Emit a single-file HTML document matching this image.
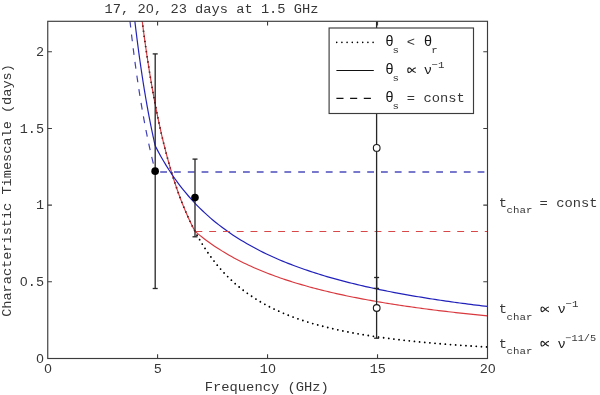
<!DOCTYPE html>
<html><head><meta charset="utf-8"><style>
html,body{margin:0;padding:0;background:#fff;width:600px;height:395px;overflow:hidden}
svg{display:block;will-change:transform}
</style></head><body>
<svg width="600" height="395" viewBox="0 0 600 395"><rect width="600" height="395" fill="#fff"/><defs><clipPath id="c"><rect x="47.75" y="21.3" width="439.75" height="337.2"/></clipPath></defs><g clip-path="url(#c)" fill="none"><path d="M141.98,19.30 L142.84,26.03 L143.71,32.57 L144.57,38.92 L145.44,45.10 L146.30,51.10 L147.16,56.94 L148.03,62.61 L148.89,68.14 L149.75,73.51 L150.62,78.74 L151.48,83.83 L152.35,88.79 L153.21,93.62 L154.07,98.33 L154.94,102.91 L155.80,107.38 L156.66,111.73 L157.53,115.98 L158.39,120.12 L159.26,124.16 L160.12,128.10 L160.98,131.94 L161.85,135.69 L162.71,139.35 L163.58,142.93 L164.44,146.42 L165.30,149.83 L166.17,153.16 L167.03,156.41 L167.89,159.59 L168.76,162.70 L169.62,165.73 L170.49,168.70 L171.35,171.60 L172.21,174.44 L173.08,177.22 L173.94,179.93 L174.80,182.59 L175.67,185.19 L176.53,187.74 L177.40,190.23 L178.26,192.66 L179.12,195.05 L179.99,197.39 L180.85,199.68 L181.71,201.92 L182.58,204.11 L183.44,206.27 L184.31,208.37 L185.17,210.44 L186.03,212.46 L186.90,214.45 L187.76,216.39 L188.63,218.30 L189.49,220.17 L190.35,222.01 L191.22,223.81 L192.08,225.57 L192.94,227.30 L193.81,229.00 L194.67,230.67 L195.54,232.31 L196.40,233.91 L197.26,235.49 L198.13,237.04 L198.99,238.56 L199.85,240.05 L200.72,241.51 L201.58,242.95 L202.45,244.37 L203.31,245.75 L204.17,247.12 L205.04,248.46 L205.90,249.78 L206.77,251.07 L207.63,252.34 L208.49,253.59 L209.36,254.82 L210.22,256.03 L211.08,257.21 L211.95,258.38 L212.81,259.53 L213.68,260.66 L214.54,261.77 L215.40,262.86 L216.27,263.94 L217.13,264.99 L217.99,266.03 L218.86,267.06 L219.72,268.06 L220.59,269.05 L221.45,270.03 L222.31,270.99 L223.18,271.93 L224.04,272.86 L224.90,273.78 L225.77,274.68 L226.63,275.56 L227.50,276.44 L228.36,277.30 L229.22,278.15 L230.09,278.98 L230.95,279.80 L231.82,280.61 L232.68,281.41 L233.54,282.19 L234.41,282.97 L235.27,283.73 L236.13,284.48 L237.00,285.22 L237.86,285.95 L238.73,286.67 L239.59,287.38 L240.45,288.08 L241.32,288.77 L242.18,289.45 L243.04,290.12 L243.91,290.78 L244.77,291.43 L245.64,292.07 L246.50,292.70 L247.36,293.33 L248.23,293.94 L249.09,294.55 L249.96,295.15 L250.82,295.74 L251.68,296.32 L252.55,296.90 L253.41,297.47 L254.27,298.03 L255.14,298.58 L256.00,299.12 L256.87,299.66 L257.73,300.19 L258.59,300.72 L259.46,301.23 L260.32,301.74 L261.18,302.25 L262.05,302.75 L262.91,303.24 L263.78,303.72 L264.64,304.20 L265.50,304.67 L266.37,305.14 L267.23,305.60 L268.09,306.05 L268.96,306.50 L269.82,306.95 L270.69,307.38 L271.55,307.82 L272.41,308.24 L273.28,308.67 L274.14,309.08 L275.01,309.50 L275.87,309.90 L276.73,310.31 L277.60,310.70 L278.46,311.10 L279.32,311.48 L280.19,311.87 L281.05,312.24 L281.92,312.62 L282.78,312.99 L283.64,313.35 L284.51,313.72 L285.37,314.07 L286.23,314.43 L287.10,314.78 L287.96,315.12 L288.83,315.46 L289.69,315.80 L290.55,316.13 L291.42,316.46 L292.28,316.79 L293.15,317.11 L294.01,317.43 L294.87,317.74 L295.74,318.05 L296.60,318.36 L297.46,318.67 L298.33,318.97 L299.19,319.27 L300.06,319.56 L300.92,319.85 L301.78,320.14 L302.65,320.43 L303.51,320.71 L304.37,320.99 L305.24,321.26 L306.10,321.54 L306.97,321.81 L307.83,322.07 L308.69,322.34 L309.56,322.60 L310.42,322.86 L311.28,323.12 L312.15,323.37 L313.01,323.62 L313.88,323.87 L314.74,324.12 L315.60,324.36 L316.47,324.60 L317.33,324.84 L318.20,325.07 L319.06,325.31 L319.92,325.54 L320.79,325.77 L321.65,325.99 L322.51,326.22 L323.38,326.44 L324.24,326.66 L325.11,326.88 L325.97,327.09 L326.83,327.31 L327.70,327.52 L328.56,327.73 L329.42,327.93 L330.29,328.14 L331.15,328.34 L332.02,328.54 L332.88,328.74 L333.74,328.94 L334.61,329.14 L335.47,329.33 L336.34,329.52 L337.20,329.71 L338.06,329.90 L338.93,330.08 L339.79,330.27 L340.65,330.45 L341.52,330.63 L342.38,330.81 L343.25,330.99 L344.11,331.17 L344.97,331.34 L345.84,331.51 L346.70,331.68 L347.56,331.85 L348.43,332.02 L349.29,332.19 L350.16,332.35 L351.02,332.52 L351.88,332.68 L352.75,332.84 L353.61,333.00 L354.47,333.16 L355.34,333.31 L356.20,333.47 L357.07,333.62 L357.93,333.77 L358.79,333.92 L359.66,334.07 L360.52,334.22 L361.39,334.37 L362.25,334.51 L363.11,334.66 L363.98,334.80 L364.84,334.94 L365.70,335.08 L366.57,335.22 L367.43,335.36 L368.30,335.50 L369.16,335.63 L370.02,335.77 L370.89,335.90 L371.75,336.03 L372.61,336.16 L373.48,336.29 L374.34,336.42 L375.21,336.55 L376.07,336.68 L376.93,336.80 L377.80,336.93 L378.66,337.05 L379.53,337.17 L380.39,337.30 L381.25,337.42 L382.12,337.54 L382.98,337.65 L383.84,337.77 L384.71,337.89 L385.57,338.00 L386.44,338.12 L387.30,338.23 L388.16,338.35 L389.03,338.46 L389.89,338.57 L390.75,338.68 L391.62,338.79 L392.48,338.90 L393.35,339.00 L394.21,339.11 L395.07,339.22 L395.94,339.32 L396.80,339.43 L397.66,339.53 L398.53,339.63 L399.39,339.73 L400.26,339.84 L401.12,339.94 L401.98,340.03 L402.85,340.13 L403.71,340.23 L404.58,340.33 L405.44,340.42 L406.30,340.52 L407.17,340.62 L408.03,340.71 L408.89,340.80 L409.76,340.90 L410.62,340.99 L411.49,341.08 L412.35,341.17 L413.21,341.26 L414.08,341.35 L414.94,341.44 L415.80,341.53 L416.67,341.61 L417.53,341.70 L418.40,341.79 L419.26,341.87 L420.12,341.96 L420.99,342.04 L421.85,342.12 L422.72,342.21 L423.58,342.29 L424.44,342.37 L425.31,342.45 L426.17,342.53 L427.03,342.61 L427.90,342.69 L428.76,342.77 L429.63,342.85 L430.49,342.92 L431.35,343.00 L432.22,343.08 L433.08,343.15 L433.94,343.23 L434.81,343.30 L435.67,343.38 L436.54,343.45 L437.40,343.53 L438.26,343.60 L439.13,343.67 L439.99,343.74 L440.85,343.81 L441.72,343.88 L442.58,343.95 L443.45,344.02 L444.31,344.09 L445.17,344.16 L446.04,344.23 L446.90,344.30 L447.77,344.37 L448.63,344.43 L449.49,344.50 L450.36,344.57 L451.22,344.63 L452.08,344.70 L452.95,344.76 L453.81,344.82 L454.68,344.89 L455.54,344.95 L456.40,345.01 L457.27,345.08 L458.13,345.14 L458.99,345.20 L459.86,345.26 L460.72,345.32 L461.59,345.38 L462.45,345.44 L463.31,345.50 L464.18,345.56 L465.04,345.62 L465.91,345.68 L466.77,345.74 L467.63,345.80 L468.50,345.85 L469.36,345.91 L470.22,345.97 L471.09,346.02 L471.95,346.08 L472.82,346.13 L473.68,346.19 L474.54,346.24 L475.41,346.30 L476.27,346.35 L477.13,346.41 L478.00,346.46 L478.86,346.51 L479.73,346.56 L480.59,346.62 L481.45,346.67 L482.32,346.72 L483.18,346.77 L484.04,346.82 L484.91,346.87 L485.77,346.92 L486.64,346.97 L487.50,347.02" stroke="#000" stroke-width="1.8" stroke-linecap="round" stroke-dasharray="0 5.17" stroke-dashoffset="3.52"/><path d="M141.98,19.30 L142.42,22.77 L142.86,26.18 L143.31,29.55 L143.75,32.87 L144.19,36.13 L144.63,39.35 L145.07,42.53 L145.51,45.66 L145.96,48.74 L146.40,51.78 L146.84,54.78 L147.28,57.73 L147.72,60.64 L148.17,63.51 L148.61,66.34 L149.05,69.14 L149.49,71.89 L149.93,74.61 L150.37,77.28 L150.82,79.92 L151.26,82.53 L151.70,85.10 L152.14,87.64 L152.58,90.14 L153.03,92.61 L153.47,95.04 L153.91,97.44 L154.35,99.82 L154.79,102.16 L155.24,104.46 L155.68,106.74 L156.12,108.99 L156.56,111.21 L157.00,113.41 L157.44,115.57 L157.89,117.71 L158.33,119.81 L158.77,121.90 L159.21,123.95 L159.65,125.98 L160.10,127.99 L160.54,129.97 L160.98,131.92 L161.42,133.85 L161.86,135.76 L162.30,137.64 L162.75,139.50 L163.19,141.34 L163.63,143.15 L164.07,144.95 L164.51,146.72 L164.96,148.47 L165.40,150.20 L165.84,151.91 L166.28,153.59 L166.72,155.26 L167.16,156.91 L167.61,158.54 L168.05,160.15 L168.49,161.74 L168.93,163.31 L169.37,164.87 L169.82,166.41 L170.26,167.92 L170.70,169.43 L171.14,170.91 L171.58,172.38 L172.02,173.83 L172.47,175.26 L172.91,176.68 L173.35,178.08 L173.79,179.47 L174.23,180.84 L174.68,182.20 L175.12,183.54 L175.56,184.87 L176.00,186.18 L176.44,187.48 L176.88,188.76 L177.33,190.03 L177.77,191.28 L178.21,192.53 L178.65,193.75 L179.09,194.97 L179.54,196.17 L179.98,197.36 L180.42,198.54 L180.86,199.70 L181.30,200.85 L181.75,201.99 L182.19,203.12 L182.63,204.24 L183.07,205.34 L183.51,206.44 L183.95,207.52 L184.40,208.59 L184.84,209.65 L185.28,210.70 L185.72,211.74 L186.16,212.76 L186.61,213.78 L187.05,214.79 L187.49,215.78 L187.93,216.77 L188.37,217.75 L188.81,218.72 L189.26,219.67 L189.70,220.62 L190.14,221.56 L190.58,222.49 L191.02,223.41 L191.47,224.32 L191.91,225.22 L192.35,226.12 L192.79,227.00 L193.23,227.88 L193.67,228.74 L194.12,229.60 L194.56,230.45 L195.00,231.30 L197.44,233.37 L199.88,235.37 L202.31,237.31 L204.75,239.19 L207.19,241.01 L209.62,242.78 L212.06,244.49 L214.50,246.16 L216.94,247.78 L219.38,249.35 L221.81,250.87 L224.25,252.36 L226.69,253.80 L229.12,255.21 L231.56,256.58 L234.00,257.91 L236.44,259.21 L238.88,260.47 L241.31,261.71 L243.75,262.91 L246.19,264.08 L248.62,265.23 L251.06,266.35 L253.50,267.44 L255.94,268.50 L258.38,269.54 L260.81,270.56 L263.25,271.55 L265.69,272.53 L268.12,273.48 L270.56,274.41 L273.00,275.32 L275.44,276.21 L277.88,277.08 L280.31,277.93 L282.75,278.76 L285.19,279.58 L287.62,280.38 L290.06,281.17 L292.50,281.94 L294.94,282.69 L297.38,283.43 L299.81,284.16 L302.25,284.87 L304.69,285.57 L307.12,286.25 L309.56,286.93 L312.00,287.59 L314.44,288.23 L316.88,288.87 L319.31,289.49 L321.75,290.11 L324.19,290.71 L326.62,291.30 L329.06,291.88 L331.50,292.46 L333.94,293.02 L336.38,293.57 L338.81,294.11 L341.25,294.65 L343.69,295.17 L346.12,295.69 L348.56,296.20 L351.00,296.70 L353.44,297.19 L355.88,297.68 L358.31,298.16 L360.75,298.63 L363.19,299.09 L365.62,299.54 L368.06,299.99 L370.50,300.43 L372.94,300.87 L375.38,301.30 L377.81,301.72 L380.25,302.14 L382.69,302.55 L385.12,302.95 L387.56,303.35 L390.00,303.74 L392.44,304.13 L394.88,304.51 L397.31,304.89 L399.75,305.26 L402.19,305.62 L404.63,305.98 L407.06,306.34 L409.50,306.69 L411.94,307.04 L414.38,307.38 L416.81,307.72 L419.25,308.05 L421.69,308.38 L424.13,308.70 L426.56,309.02 L429.00,309.34 L431.44,309.65 L433.88,309.96 L436.31,310.26 L438.75,310.57 L441.19,310.86 L443.62,311.16 L446.06,311.44 L448.50,311.73 L450.94,312.01 L453.38,312.29 L455.81,312.57 L458.25,312.84 L460.69,313.11 L463.13,313.38 L465.56,313.64 L468.00,313.90 L470.44,314.16 L472.88,314.41 L475.31,314.66 L477.75,314.91 L480.19,315.16 L482.62,315.40 L485.06,315.64 L487.50,315.88" stroke="#d8383e" stroke-width="1.15"/><path d="M134.63,19.30 L134.80,20.76 L134.98,22.22 L135.15,23.67 L135.32,25.10 L135.49,26.53 L135.66,27.95 L135.83,29.36 L136.00,30.77 L136.18,32.16 L136.35,33.54 L136.52,34.92 L136.69,36.29 L136.86,37.65 L137.03,39.00 L137.20,40.34 L137.38,41.68 L137.55,43.00 L137.72,44.32 L137.89,45.63 L138.06,46.94 L138.23,48.23 L138.40,49.52 L138.58,50.80 L138.75,52.07 L138.92,53.33 L139.09,54.59 L139.26,55.84 L139.43,57.08 L139.60,58.31 L139.77,59.54 L139.95,60.76 L140.12,61.97 L140.29,63.18 L140.46,64.37 L140.63,65.56 L140.80,66.75 L140.97,67.92 L141.15,69.09 L141.32,70.26 L141.49,71.41 L141.66,72.56 L141.83,73.71 L142.00,74.84 L142.17,75.97 L142.35,77.10 L142.52,78.21 L142.69,79.32 L142.86,80.43 L143.03,81.52 L143.20,82.62 L143.37,83.70 L143.55,84.78 L143.72,85.85 L143.89,86.92 L144.06,87.98 L144.23,89.03 L144.40,90.08 L144.57,91.12 L144.75,92.16 L144.92,93.19 L145.09,94.22 L145.26,95.24 L145.43,96.25 L145.60,97.26 L145.77,98.26 L145.94,99.26 L146.12,100.25 L146.29,101.23 L146.46,102.21 L146.63,103.19 L146.80,104.16 L146.97,105.12 L147.14,106.08 L147.32,107.03 L147.49,107.98 L147.66,108.93 L147.83,109.86 L148.00,110.80 L148.17,111.72 L148.34,112.65 L148.52,113.56 L148.69,114.48 L148.86,115.38 L149.03,116.29 L149.20,117.19 L149.37,118.08 L149.54,118.97 L149.72,119.85 L149.89,120.73 L150.06,121.60 L150.23,122.47 L150.40,123.34 L150.57,124.20 L150.74,125.05 L150.92,125.91 L151.09,126.75 L151.26,127.59 L151.43,128.43 L151.60,129.27 L151.77,130.09 L151.94,130.92 L152.11,131.74 L152.29,132.55 L152.46,133.37 L152.63,134.17 L152.80,134.98 L152.97,135.78 L153.14,136.57 L153.31,137.36 L153.49,138.15 L153.66,138.93 L153.83,139.71 L154.00,140.48 L154.17,141.26 L154.34,142.02 L154.51,142.78 L154.69,143.54 L154.86,144.30 L155.03,145.05 L155.20,145.80 L157.97,151.13 L160.74,156.21 L163.51,161.04 L166.28,165.65 L169.05,170.05 L171.81,174.25 L174.58,178.27 L177.35,182.11 L180.12,185.80 L182.89,189.33 L185.66,192.73 L188.43,195.99 L191.20,199.12 L193.97,202.14 L196.74,205.04 L199.51,207.84 L202.28,210.53 L205.05,213.14 L207.81,215.65 L210.58,218.08 L213.35,220.42 L216.12,222.69 L218.89,224.89 L221.66,227.01 L224.43,229.07 L227.20,231.07 L229.97,233.00 L232.74,234.88 L235.51,236.70 L238.27,238.47 L241.04,240.19 L243.81,241.86 L246.58,243.48 L249.35,245.06 L252.12,246.60 L254.89,248.09 L257.66,249.55 L260.43,250.96 L263.20,252.34 L265.97,253.69 L268.74,255.00 L271.50,256.28 L274.27,257.53 L277.04,258.75 L279.81,259.94 L282.58,261.10 L285.35,262.24 L288.12,263.34 L290.89,264.43 L293.66,265.49 L296.43,266.52 L299.20,267.53 L301.97,268.52 L304.74,269.49 L307.50,270.44 L310.27,271.37 L313.04,272.28 L315.81,273.17 L318.58,274.04 L321.35,274.89 L324.12,275.73 L326.89,276.55 L329.66,277.36 L332.43,278.15 L335.20,278.92 L337.97,279.68 L340.73,280.42 L343.50,281.15 L346.27,281.87 L349.04,282.58 L351.81,283.27 L354.58,283.95 L357.35,284.61 L360.12,285.27 L362.89,285.91 L365.66,286.54 L368.43,287.16 L371.20,287.77 L373.96,288.37 L376.73,288.96 L379.50,289.54 L382.27,290.11 L385.04,290.68 L387.81,291.23 L390.58,291.77 L393.35,292.30 L396.12,292.83 L398.89,293.35 L401.66,293.86 L404.43,294.36 L407.19,294.85 L409.96,295.34 L412.73,295.82 L415.50,296.29 L418.27,296.76 L421.04,297.21 L423.81,297.66 L426.58,298.11 L429.35,298.55 L432.12,298.98 L434.89,299.40 L437.65,299.82 L440.42,300.24 L443.19,300.65 L445.96,301.05 L448.73,301.44 L451.50,301.84 L454.27,302.22 L457.04,302.60 L459.81,302.98 L462.58,303.35 L465.35,303.71 L468.12,304.07 L470.89,304.43 L473.65,304.78 L476.42,305.13 L479.19,305.47 L481.96,305.81 L484.73,306.14 L487.50,306.47" stroke="#2222bb" stroke-width="1.2"/><path d="M141.98,19.30 L142.84,26.03 L143.71,32.57 L144.57,38.92 L145.44,45.10 L146.30,51.10 L147.16,56.94 L148.03,62.61 L148.89,68.14 L149.75,73.51 L150.62,78.74 L151.48,83.83 L152.35,88.79 L153.21,93.62 L154.07,98.33 L154.94,102.91 L155.80,107.38 L156.66,111.73 L157.53,115.98 L158.39,120.12 L159.26,124.16 L160.12,128.10 L160.98,131.94 L161.85,135.69 L162.71,139.35 L163.58,142.93 L164.44,146.42 L165.30,149.83 L166.17,153.16 L167.03,156.41 L167.89,159.59 L168.76,162.70 L169.62,165.73 L170.49,168.70 L171.35,171.60 L172.21,174.44 L173.08,177.22 L173.94,179.93 L174.80,182.59 L175.67,185.19 L176.53,187.74 L177.40,190.23 L178.26,192.66 L179.12,195.05 L179.99,197.39 L180.85,199.68 L181.71,201.92 L182.58,204.11 L183.44,206.27 L184.31,208.37 L185.17,210.44 L186.03,212.46 L186.90,214.45 L187.76,216.39 L188.63,218.30 L189.49,220.17 L190.35,222.01 L191.22,223.81 L192.08,225.57 L192.94,227.30 L193.81,229.00 L194.67,230.67 L195.54,232.31 L196.40,233.91 L197.26,235.49 L198.13,237.04 L198.99,238.56 L199.85,240.05 L200.72,241.51 L201.58,242.95 L202.45,244.37 L203.31,245.75 L204.17,247.12 L205.04,248.46 L205.90,249.78 L206.77,251.07 L207.63,252.34 L208.49,253.59 L209.36,254.82 L210.22,256.03 L211.08,257.21 L211.95,258.38 L212.81,259.53 L213.68,260.66 L214.54,261.77 L215.40,262.86 L216.27,263.94 L217.13,264.99 L217.99,266.03 L218.86,267.06 L219.72,268.06 L220.59,269.05 L221.45,270.03 L222.31,270.99 L223.18,271.93 L224.04,272.86 L224.90,273.78 L225.77,274.68 L226.63,275.56 L227.50,276.44 L228.36,277.30 L229.22,278.15 L230.09,278.98 L230.95,279.80 L231.82,280.61 L232.68,281.41 L233.54,282.19 L234.41,282.97 L235.27,283.73 L236.13,284.48 L237.00,285.22 L237.86,285.95 L238.73,286.67 L239.59,287.38 L240.45,288.08 L241.32,288.77 L242.18,289.45 L243.04,290.12 L243.91,290.78 L244.77,291.43 L245.64,292.07 L246.50,292.70 L247.36,293.33 L248.23,293.94 L249.09,294.55 L249.96,295.15 L250.82,295.74 L251.68,296.32 L252.55,296.90 L253.41,297.47 L254.27,298.03 L255.14,298.58 L256.00,299.12 L256.87,299.66 L257.73,300.19 L258.59,300.72 L259.46,301.23 L260.32,301.74 L261.18,302.25 L262.05,302.75 L262.91,303.24 L263.78,303.72 L264.64,304.20 L265.50,304.67 L266.37,305.14 L267.23,305.60 L268.09,306.05 L268.96,306.50 L269.82,306.95 L270.69,307.38 L271.55,307.82 L272.41,308.24 L273.28,308.67 L274.14,309.08 L275.01,309.50 L275.87,309.90 L276.73,310.31 L277.60,310.70 L278.46,311.10 L279.32,311.48 L280.19,311.87 L281.05,312.24 L281.92,312.62 L282.78,312.99 L283.64,313.35 L284.51,313.72 L285.37,314.07 L286.23,314.43 L287.10,314.78 L287.96,315.12 L288.83,315.46 L289.69,315.80 L290.55,316.13 L291.42,316.46 L292.28,316.79 L293.15,317.11 L294.01,317.43 L294.87,317.74 L295.74,318.05 L296.60,318.36 L297.46,318.67 L298.33,318.97 L299.19,319.27 L300.06,319.56 L300.92,319.85 L301.78,320.14 L302.65,320.43 L303.51,320.71 L304.37,320.99 L305.24,321.26 L306.10,321.54 L306.97,321.81 L307.83,322.07 L308.69,322.34 L309.56,322.60 L310.42,322.86 L311.28,323.12 L312.15,323.37 L313.01,323.62 L313.88,323.87 L314.74,324.12 L315.60,324.36 L316.47,324.60 L317.33,324.84 L318.20,325.07 L319.06,325.31 L319.92,325.54 L320.79,325.77 L321.65,325.99 L322.51,326.22 L323.38,326.44 L324.24,326.66 L325.11,326.88 L325.97,327.09 L326.83,327.31 L327.70,327.52 L328.56,327.73 L329.42,327.93 L330.29,328.14 L331.15,328.34 L332.02,328.54 L332.88,328.74 L333.74,328.94 L334.61,329.14 L335.47,329.33 L336.34,329.52 L337.20,329.71 L338.06,329.90 L338.93,330.08 L339.79,330.27 L340.65,330.45 L341.52,330.63 L342.38,330.81 L343.25,330.99 L344.11,331.17 L344.97,331.34 L345.84,331.51 L346.70,331.68 L347.56,331.85 L348.43,332.02 L349.29,332.19 L350.16,332.35 L351.02,332.52 L351.88,332.68 L352.75,332.84 L353.61,333.00 L354.47,333.16 L355.34,333.31 L356.20,333.47 L357.07,333.62 L357.93,333.77 L358.79,333.92 L359.66,334.07 L360.52,334.22 L361.39,334.37 L362.25,334.51 L363.11,334.66 L363.98,334.80 L364.84,334.94 L365.70,335.08 L366.57,335.22 L367.43,335.36 L368.30,335.50 L369.16,335.63 L370.02,335.77 L370.89,335.90 L371.75,336.03 L372.61,336.16 L373.48,336.29 L374.34,336.42 L375.21,336.55 L376.07,336.68 L376.93,336.80 L377.80,336.93 L378.66,337.05 L379.53,337.17 L380.39,337.30 L381.25,337.42 L382.12,337.54 L382.98,337.65 L383.84,337.77 L384.71,337.89 L385.57,338.00 L386.44,338.12 L387.30,338.23 L388.16,338.35 L389.03,338.46 L389.89,338.57 L390.75,338.68 L391.62,338.79 L392.48,338.90 L393.35,339.00 L394.21,339.11 L395.07,339.22 L395.94,339.32 L396.80,339.43 L397.66,339.53 L398.53,339.63 L399.39,339.73 L400.26,339.84 L401.12,339.94 L401.98,340.03 L402.85,340.13 L403.71,340.23 L404.58,340.33 L405.44,340.42 L406.30,340.52 L407.17,340.62 L408.03,340.71 L408.89,340.80 L409.76,340.90 L410.62,340.99 L411.49,341.08 L412.35,341.17 L413.21,341.26 L414.08,341.35 L414.94,341.44 L415.80,341.53 L416.67,341.61 L417.53,341.70 L418.40,341.79 L419.26,341.87 L420.12,341.96 L420.99,342.04 L421.85,342.12 L422.72,342.21 L423.58,342.29 L424.44,342.37 L425.31,342.45 L426.17,342.53 L427.03,342.61 L427.90,342.69 L428.76,342.77 L429.63,342.85 L430.49,342.92 L431.35,343.00 L432.22,343.08 L433.08,343.15 L433.94,343.23 L434.81,343.30 L435.67,343.38 L436.54,343.45 L437.40,343.53 L438.26,343.60 L439.13,343.67 L439.99,343.74 L440.85,343.81 L441.72,343.88 L442.58,343.95 L443.45,344.02 L444.31,344.09 L445.17,344.16 L446.04,344.23 L446.90,344.30 L447.77,344.37 L448.63,344.43 L449.49,344.50 L450.36,344.57 L451.22,344.63 L452.08,344.70 L452.95,344.76 L453.81,344.82 L454.68,344.89 L455.54,344.95 L456.40,345.01 L457.27,345.08 L458.13,345.14 L458.99,345.20 L459.86,345.26 L460.72,345.32 L461.59,345.38 L462.45,345.44 L463.31,345.50 L464.18,345.56 L465.04,345.62 L465.91,345.68 L466.77,345.74 L467.63,345.80 L468.50,345.85 L469.36,345.91 L470.22,345.97 L471.09,346.02 L471.95,346.08 L472.82,346.13 L473.68,346.19 L474.54,346.24 L475.41,346.30 L476.27,346.35 L477.13,346.41 L478.00,346.46 L478.86,346.51 L479.73,346.56 L480.59,346.62 L481.45,346.67 L482.32,346.72 L483.18,346.77 L484.04,346.82 L484.91,346.87 L485.77,346.92 L486.64,346.97 L487.50,347.02" stroke="#000" stroke-opacity="0.75" stroke-width="1.0" stroke-linecap="round" stroke-dasharray="0 5.17" stroke-dashoffset="3.52"/><path d="M195.00,231.50 L487.50,231.50" stroke="#d84848" stroke-width="1.2" stroke-dasharray="6.9 6.88" stroke-dashoffset="-0.4"/><path d="M129.79,19.30 L130.00,21.21 L130.21,23.11 L130.42,25.00 L130.63,26.87 L130.85,28.72 L131.06,30.56 L131.27,32.38 L131.48,34.19 L131.69,35.98 L131.90,37.76 L132.12,39.53 L132.33,41.28 L132.54,43.02 L132.75,44.74 L132.96,46.45 L133.18,48.15 L133.39,49.83 L133.60,51.50 L133.81,53.16 L134.02,54.80 L134.23,56.43 L134.45,58.05 L134.66,59.66 L134.87,61.25 L135.08,62.83 L135.29,64.40 L135.50,65.95 L135.72,67.50 L135.93,69.03 L136.14,70.55 L136.35,72.06 L136.56,73.56 L136.78,75.05 L136.99,76.52 L137.20,77.99 L137.41,79.44 L137.62,80.88 L137.83,82.31 L138.05,83.73 L138.26,85.14 L138.47,86.54 L138.68,87.93 L138.89,89.31 L139.11,90.68 L139.32,92.04 L139.53,93.39 L139.74,94.73 L139.95,96.05 L140.16,97.37 L140.38,98.68 L140.59,99.98 L140.80,101.27 L141.01,102.56 L141.22,103.83 L141.43,105.09 L141.65,106.34 L141.86,107.59 L142.07,108.82 L142.28,110.05 L142.49,111.27 L142.71,112.48 L142.92,113.68 L143.13,114.87 L143.34,116.06 L143.55,117.23 L143.76,118.40 L143.98,119.56 L144.19,120.71 L144.40,121.85 L144.61,122.99 L144.82,124.11 L145.03,125.23 L145.25,126.35 L145.46,127.45 L145.67,128.55 L145.88,129.63 L146.09,130.72 L146.31,131.79 L146.52,132.86 L146.73,133.91 L146.94,134.97 L147.15,136.01 L147.36,137.05 L147.58,138.08 L147.79,139.10 L148.00,140.12 L148.21,141.13 L148.42,142.13 L148.63,143.13 L148.85,144.12 L149.06,145.10 L149.27,146.08 L149.48,147.05 L149.69,148.01 L149.91,148.97 L150.12,149.92 L150.33,150.87 L150.54,151.81 L150.75,152.74 L150.96,153.66 L151.18,154.58 L151.39,155.50 L151.60,156.41 L151.81,157.31 L152.02,158.21 L152.24,159.10 L152.45,159.98 L152.66,160.86 L152.87,161.73 L153.08,162.60 L153.29,163.47 L153.51,164.32 L153.72,165.17 L153.93,166.02 L154.14,166.86 L154.35,167.70 L154.56,168.53 L154.78,169.35 L154.99,170.17 L155.20,170.99" stroke="#4040b8" stroke-width="1.2" stroke-dasharray="6.8 7" stroke-dashoffset="-1.5"/><path d="M155.20,172.00 L487.50,172.00" stroke="#7878cc" stroke-width="2" stroke-dasharray="6.8 7" stroke-dashoffset="-5"/></g><line x1="155.2" y1="53.9" x2="155.2" y2="288.5" stroke="#262626" stroke-width="1.3"/><line x1="152.7" y1="53.9" x2="157.7" y2="53.9" stroke="#262626" stroke-width="1.3"/><line x1="152.7" y1="288.5" x2="157.7" y2="288.5" stroke="#262626" stroke-width="1.3"/><line x1="195.0" y1="159.1" x2="195.0" y2="236.8" stroke="#262626" stroke-width="1.3"/><line x1="192.5" y1="159.1" x2="197.5" y2="159.1" stroke="#262626" stroke-width="1.3"/><line x1="192.5" y1="236.8" x2="197.5" y2="236.8" stroke="#262626" stroke-width="1.3"/><line x1="376.6" y1="21.3" x2="376.6" y2="288.4" stroke="#262626" stroke-width="1.3"/><line x1="374.1" y1="288.4" x2="379.1" y2="288.4" stroke="#262626" stroke-width="1.3"/><line x1="376.6" y1="277.5" x2="376.6" y2="338.2" stroke="#262626" stroke-width="1.3"/><line x1="374.1" y1="277.5" x2="379.1" y2="277.5" stroke="#262626" stroke-width="1.3"/><line x1="374.1" y1="338.2" x2="379.1" y2="338.2" stroke="#262626" stroke-width="1.3"/><circle cx="155.15" cy="171.15" r="3.8" fill="#000"/><circle cx="195.0" cy="197.6" r="3.8" fill="#000"/><circle cx="376.7" cy="147.9" r="3.35" fill="#fff" stroke="#1a1a1a" stroke-width="1.1"/><circle cx="376.7" cy="308.0" r="3.35" fill="#fff" stroke="#1a1a1a" stroke-width="1.1"/><rect x="47.75" y="21.3" width="439.75" height="337.2" fill="none" stroke="#3c3c3c" stroke-width="1.15"/><path d="M157.58,358.5 v-4.2 M157.58,21.3 v4.2 M267.55,358.5 v-4.2 M267.55,21.3 v4.2 M377.53,358.5 v-4.2 M377.53,21.3 v4.2 M47.75,281.82 h4.2 M487.5,281.82 h-4.2 M47.75,205.15 h4.2 M487.5,205.15 h-4.2 M47.75,128.48 h4.2 M487.5,128.48 h-4.2 M47.75,51.80 h4.2 M487.5,51.80 h-4.2" stroke="#3c3c3c" stroke-width="1.1" fill="none"/><rect x="329.1" y="28" width="144.4" height="85.5" fill="#fff" stroke="#3c3c3c" stroke-width="1.15"/><line x1="336.7" y1="42.4" x2="374" y2="42.4" stroke="#000" stroke-width="1.6" stroke-linecap="round" stroke-dasharray="0 5.2"/><line x1="336.4" y1="70.5" x2="373.8" y2="70.5" stroke="#111" stroke-width="1.2"/><line x1="336.4" y1="98.3" x2="373.8" y2="98.3" stroke="#111" stroke-width="1.2" stroke-dasharray="7.1 6.6"/><text transform="translate(104.60,13.00) scale(1,0.88)" style="font-family:'Liberation Mono', monospace;fill:#363636;font-size:13.72px"><tspan x="0.00">17, 2</tspan><tspan x="41.46" style="font-family:'Liberation Sans',sans-serif">0</tspan><tspan x="49.40">, 23 days at 1.5 GHz</tspan></text><text transform="translate(47.90,373.00) scale(1,0.92)" style="font-family:'Liberation Mono', monospace;fill:#363636;font-size:13.5px"><tspan x="-3.76" style="font-family:'Liberation Sans',sans-serif">0</tspan></text><text transform="translate(157.88,373.00) scale(1,0.92)" style="font-family:'Liberation Mono', monospace;fill:#363636;font-size:13.5px"><tspan x="-4.05">5</tspan></text><text transform="translate(267.85,373.00) scale(1,0.92)" style="font-family:'Liberation Mono', monospace;fill:#363636;font-size:13.5px"><tspan x="-8.10">1</tspan><tspan x="0.29" style="font-family:'Liberation Sans',sans-serif">0</tspan></text><text transform="translate(377.83,373.00) scale(1,0.92)" style="font-family:'Liberation Mono', monospace;fill:#363636;font-size:13.5px"><tspan x="-8.10">15</tspan></text><text transform="translate(487.80,373.00) scale(1,0.92)" style="font-family:'Liberation Mono', monospace;fill:#363636;font-size:13.5px"><tspan x="-8.10">2</tspan><tspan x="0.29" style="font-family:'Liberation Sans',sans-serif">0</tspan></text><text transform="translate(44.00,362.80) scale(1,0.92)" style="font-family:'Liberation Mono', monospace;fill:#363636;font-size:13.5px"><tspan x="-7.81" style="font-family:'Liberation Sans',sans-serif">0</tspan></text><text transform="translate(44.00,286.12) scale(1,0.92)" style="font-family:'Liberation Mono', monospace;fill:#363636;font-size:13.5px"><tspan x="-24.01" style="font-family:'Liberation Sans',sans-serif">0</tspan><tspan x="-16.20">.5</tspan></text><text transform="translate(44.00,209.45) scale(1,0.92)" style="font-family:'Liberation Mono', monospace;fill:#363636;font-size:13.5px"><tspan x="-8.10">1</tspan></text><text transform="translate(44.00,132.78) scale(1,0.92)" style="font-family:'Liberation Mono', monospace;fill:#363636;font-size:13.5px"><tspan x="-24.30">1.5</tspan></text><text transform="translate(44.00,56.10) scale(1,0.92)" style="font-family:'Liberation Mono', monospace;fill:#363636;font-size:13.5px"><tspan x="-8.10">2</tspan></text><text transform="translate(266.80,391.20) scale(1,0.88)" style="font-family:'Liberation Mono', monospace;fill:#363636;font-size:13.8px" text-anchor="middle">Frequency (GHz)</text><text transform="translate(11.2,190.5) rotate(-90) scale(1,0.88)" style="font-family:'Liberation Mono', monospace;fill:#363636;font-size:13.6px" text-anchor="middle">Characteristic Timescale (days)</text><text transform="translate(385.30,46.00) scale(1,1.04)" style="font-family:'Liberation Mono', monospace;fill:#141414;font-size:14.2px" text-anchor="start">θ</text><text transform="translate(392.60,52.50) scale(1,0.88)" style="font-family:'Liberation Mono', monospace;fill:#363636;font-size:10.8px" text-anchor="start">s</text><text transform="translate(406.80,46.00) scale(1,0.88)" style="font-family:'Liberation Mono', monospace;fill:#363636;font-size:13.8px" text-anchor="start">&lt;</text><text transform="translate(423.80,46.00) scale(1,1.04)" style="font-family:'Liberation Mono', monospace;fill:#141414;font-size:14.2px" text-anchor="start">θ</text><text transform="translate(431.30,52.50) scale(1,0.88)" style="font-family:'Liberation Mono', monospace;fill:#363636;font-size:10.8px" text-anchor="start">r</text><text transform="translate(385.30,74.00) scale(1,1.04)" style="font-family:'Liberation Mono', monospace;fill:#141414;font-size:14.2px" text-anchor="start">θ</text><text transform="translate(392.60,80.50) scale(1,0.88)" style="font-family:'Liberation Mono', monospace;fill:#363636;font-size:10.8px" text-anchor="start">s</text><path d="M415.80,67.90 C412.65,67.90 411.24,72.50 409.16,72.50 C407.33,72.50 407.33,67.90 409.16,67.90 C411.24,67.90 412.65,72.50 415.80,72.50" fill="none" stroke="#222" stroke-width="1.1"/><text transform="translate(423.80,74.00) scale(1,0.88)" style="font-family:'Liberation Mono', monospace;fill:#141414;font-size:13.8px" text-anchor="start">ν</text><text transform="translate(431.50,67.50) scale(1,0.88)" style="font-family:'Liberation Mono', monospace;fill:#363636;font-size:10.8px" text-anchor="start">−1</text><text transform="translate(385.30,102.00) scale(1,1.04)" style="font-family:'Liberation Mono', monospace;fill:#141414;font-size:14.2px" text-anchor="start">θ</text><text transform="translate(392.60,108.50) scale(1,0.88)" style="font-family:'Liberation Mono', monospace;fill:#363636;font-size:10.8px" text-anchor="start">s</text><text transform="translate(406.80,102.00) scale(1,0.88)" style="font-family:'Liberation Mono', monospace;fill:#363636;font-size:13.8px" text-anchor="start">=</text><text transform="translate(423.50,102.00) scale(1,0.88)" style="font-family:'Liberation Mono', monospace;fill:#363636;font-size:13.8px" text-anchor="start">const</text><text transform="translate(498.80,206.50) scale(1,0.88)" style="font-family:'Liberation Mono', monospace;fill:#363636;font-size:13.8px" text-anchor="start">t</text><text transform="translate(506.60,213.00) scale(1,0.88)" style="font-family:'Liberation Mono', monospace;fill:#363636;font-size:10.8px" text-anchor="start">char</text><text transform="translate(539.60,206.50) scale(1,0.88)" style="font-family:'Liberation Mono', monospace;fill:#363636;font-size:13.8px" text-anchor="start">=</text><text transform="translate(556.20,206.50) scale(1,0.88)" style="font-family:'Liberation Mono', monospace;fill:#363636;font-size:13.8px" text-anchor="start">const</text><text transform="translate(498.80,313.40) scale(1,0.88)" style="font-family:'Liberation Mono', monospace;fill:#363636;font-size:13.8px" text-anchor="start">t</text><text transform="translate(506.60,319.90) scale(1,0.88)" style="font-family:'Liberation Mono', monospace;fill:#363636;font-size:10.8px" text-anchor="start">char</text><path d="M549.00,307.00 C545.85,307.00 544.44,311.60 542.36,311.60 C540.53,311.60 540.53,307.00 542.36,307.00 C544.44,307.00 545.85,311.60 549.00,311.60" fill="none" stroke="#222" stroke-width="1.1"/><text transform="translate(557.50,313.40) scale(1,0.88)" style="font-family:'Liberation Mono', monospace;fill:#141414;font-size:13.8px" text-anchor="start">ν</text><text transform="translate(565.50,306.80) scale(1,0.88)" style="font-family:'Liberation Mono', monospace;fill:#363636;font-size:10.8px" text-anchor="start">−1</text><text transform="translate(498.80,347.80) scale(1,0.88)" style="font-family:'Liberation Mono', monospace;fill:#363636;font-size:13.8px" text-anchor="start">t</text><text transform="translate(506.60,354.30) scale(1,0.88)" style="font-family:'Liberation Mono', monospace;fill:#363636;font-size:10.8px" text-anchor="start">char</text><path d="M549.00,341.40 C545.85,341.40 544.44,346.00 542.36,346.00 C540.53,346.00 540.53,341.40 542.36,341.40 C544.44,341.40 545.85,346.00 549.00,346.00" fill="none" stroke="#222" stroke-width="1.1"/><text transform="translate(557.50,347.80) scale(1,0.88)" style="font-family:'Liberation Mono', monospace;fill:#141414;font-size:13.8px" text-anchor="start">ν</text><text transform="translate(565.30,341.30) scale(1,0.88)" style="font-family:'Liberation Mono', monospace;fill:#363636;font-size:10.3px" text-anchor="start">−11/5</text></svg>
</body></html>
